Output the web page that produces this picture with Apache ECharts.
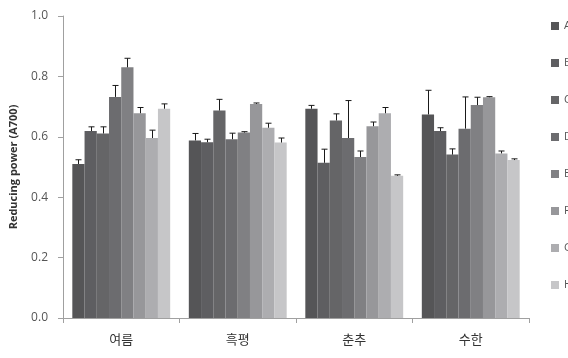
<!DOCTYPE html>
<html>
<head>
<meta charset="utf-8">
<script src="https://cdn.jsdelivr.net/npm/echarts@6/dist/echarts.min.js"></script>
<style>
  html, body { margin: 0; padding: 0; background: #fff; }
  #chart { width: 568px; height: 358px; }
</style>
</head>
<body>
<div id="chart"></div>
<script>
// Cultivars on the x axis
const categories = ['여름', '흑평', '춘추', '수한'];
// Treatment series names
const seriesNames = ['A', 'B', 'C', 'D', 'E', 'F', 'G', 'H'];
// Mean reducing power (A700) per series, one value per cultivar
const valA = [0.510, 0.588, 0.693, 0.674];
const valB = [0.619, 0.582, 0.514, 0.619];
const valC = [0.611, 0.687, 0.654, 0.541];
const valD = [0.732, 0.592, 0.596, 0.627];
const valE = [0.830, 0.614, 0.533, 0.705];
const valF = [0.678, 0.709, 0.635, 0.731];
const valG = [0.596, 0.630, 0.678, 0.545];
const valH = [0.693, 0.581, 0.471, 0.523];
// Standard deviations (upper error bars)
const errA = [0.014, 0.023, 0.011, 0.080];
const errB = [0.014, 0.010, 0.045, 0.011];
const errC = [0.022, 0.037, 0.022, 0.019];
const errD = [0.038, 0.020, 0.124, 0.105];
const errE = [0.030, 0.003, 0.020, 0.026];
const errF = [0.019, 0.003, 0.014, 0.002];
const errG = [0.026, 0.015, 0.019, 0.008];
const errH = [0.016, 0.015, 0.003, 0.004];
// Y axis tick values
const yTicks = [0, 0.2, 0.4, 0.6, 0.8, 1.0];

const values = [valA, valB, valC, valD, valE, valF, valG, valH];
const errors = [errA, errB, errC, errD, errE, errF, errG, errH];
const colors = ['#555557', '#5e5e61', '#656567', '#6c6c6f', '#808083', '#97979a', '#adadb0', '#c6c6c8'];

const catGap = 0.16;
const nSeries = seriesNames.length;

const barSeries = seriesNames.map((name, i) => ({
  name: name,
  type: 'bar',
  data: values[i],
  barGap: '0%',
  barCategoryGap: (catGap * 100) + '%',
  itemStyle: { color: colors[i] },
  emphasis: { disabled: true }
}));

const errSeries = seriesNames.map((name, i) => ({
  name: name,
  type: 'custom',
  silent: true,
  z: 5,
  data: values[i].map((v, k) => [k, v, v + errors[i][k]]),
  renderItem: function (params, api) {
    const k = api.value(0);
    const bandW = api.size([1, 0])[0];
    const barW = bandW * (1 - catGap) / nSeries;
    const offset = (i - (nSeries - 1) / 2) * barW;
    const base = api.coord([k, api.value(1)]);
    const top = api.coord([k, api.value(2)]);
    const x = Math.round(base[0] + offset) + 0.5;
    const half = 3;
    const style = { stroke: '#1a1a1a', lineWidth: 1, fill: null };
    return {
      type: 'group',
      children: [
        { type: 'line', shape: { x1: x, y1: base[1], x2: x, y2: top[1] }, style: style },
        { type: 'line', shape: { x1: x - half, y1: top[1], x2: x + half, y2: top[1] }, style: style }
      ]
    };
  }
}));

const chart = echarts.init(document.getElementById('chart'), null, { renderer: 'canvas' });
chart.setOption({
  animation: false,
  backgroundColor: '#ffffff',
  textStyle: { fontFamily: 'Open Sans, Noto Sans CJK KR, sans-serif' },
  grid: { left: 61, right: 39, top: 16, bottom: 40 },
  legend: {
    orient: 'vertical',
    left: 551,
    top: 20,
    padding: 0,
    itemGap: 25,
    itemWidth: 8,
    itemHeight: 8,
    icon: 'rect',
    data: seriesNames.map((n, i) => ({ name: n, itemStyle: { color: colors[i] } })),
    textStyle: { fontSize: 11, lineHeight: 12, color: '#555' }
  },
  xAxis: {
    type: 'category',
    data: categories,
    axisLine: { lineStyle: { color: '#a0a0a0' } },
    axisTick: { show: true, length: 5, lineStyle: { color: '#a0a0a0' } },
    axisLabel: { fontSize: 13, color: '#333', margin: 15, fontFamily: 'Noto Sans CJK KR' }
  },
  yAxis: {
    type: 'value',
    min: yTicks[0],
    max: yTicks[yTicks.length - 1],
    interval: 0.2,
    name: 'Reducing power (A700)',
    nameLocation: 'middle',
    nameGap: 44,
    nameTextStyle: { fontSize: 11, fontWeight: 'bold', color: '#333' },
    axisLine: { show: true, lineStyle: { color: '#a0a0a0' } },
    axisTick: { show: true, length: 5, lineStyle: { color: '#a0a0a0' } },
    splitLine: { show: false },
    axisLabel: {
      fontSize: 12,
      color: '#555',
      margin: 15,
      formatter: v => v.toFixed(1)
    }
  },
  series: [...barSeries, ...errSeries]
});
</script>
</body>
</html>
